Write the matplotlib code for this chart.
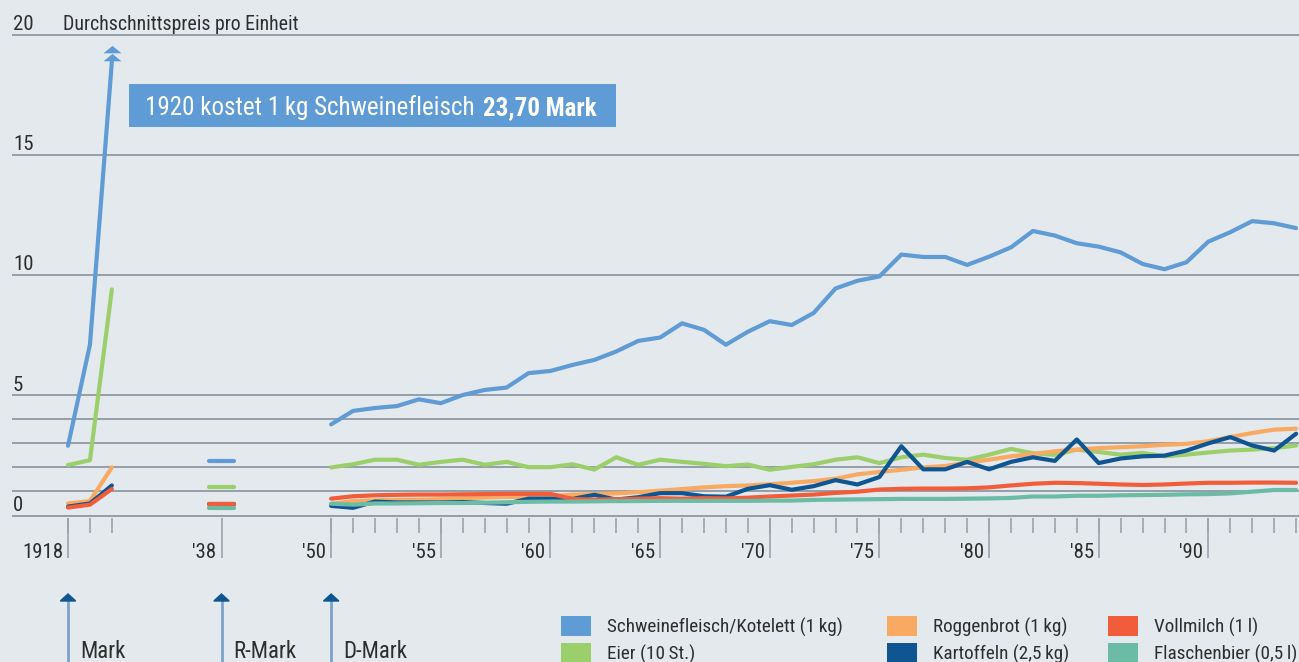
import numpy as np
import matplotlib.pyplot as plt
from matplotlib.patches import Rectangle

plt.rcParams['font.family'] = ['Roboto Condensed', 'Liberation Sans Narrow',
                               'DejaVu Sans Condensed', 'DejaVu Sans']

# --- data -------------------------------------------------------------
years_early = [1918, 1919, 1920]
year_38 = 1938
years_main = list(range(1950, 1995))

pork_early = [2.9, 7.1, 23.70]
eggs_early = [2.1, 2.3, 9.4]
bread_early = [0.5, 0.6, 2.0]
potatoes_early = [0.37, 0.5, 1.25]
milk_early = [0.33, 0.45, 1.1]
beer_early = [np.nan, np.nan, np.nan]

pork_38 = 2.25
eggs_38 = 1.2
bread_38 = 0.45
potatoes_38 = 0.46
milk_38 = 0.46
beer_38 = 0.3

pork_main = [3.79, 4.35, 4.47, 4.55, 4.83, 4.67, 5.01, 5.22, 5.32, 5.92,
             6.01, 6.26, 6.47, 6.82, 7.26, 7.40, 7.99, 7.72, 7.10, 7.64,
             8.08, 7.92, 8.42, 9.44, 9.76, 9.94, 10.85, 10.75, 10.75, 10.42,
             10.76, 11.15, 11.83, 11.64, 11.32, 11.18, 10.94, 10.46, 10.24, 10.53,
             11.39, 11.78, 12.24, 12.15, 11.95]
eggs_main = [2.00, 2.13, 2.32, 2.32, 2.11, 2.23, 2.32, 2.11, 2.23, 2.01,
             2.01, 2.13, 1.91, 2.42, 2.11, 2.32, 2.23, 2.15, 2.05, 2.12,
             1.90, 2.02, 2.13, 2.32, 2.42, 2.18, 2.42, 2.53, 2.39, 2.32,
             2.53, 2.77, 2.59, 2.52, 2.74, 2.64, 2.53, 2.60, 2.46, 2.53,
             2.62, 2.70, 2.74, 2.80, 2.91]
bread_main = [0.48, 0.60, 0.63, 0.65, 0.66, 0.68, 0.72, 0.75, 0.77, 0.78,
              0.80, 0.87, 0.89, 0.92, 0.97, 1.03, 1.10, 1.17, 1.22, 1.25,
              1.30, 1.36, 1.43, 1.53, 1.71, 1.81, 1.90, 2.00, 2.06, 2.20,
              2.32, 2.46, 2.56, 2.67, 2.74, 2.80, 2.84, 2.88, 2.94, 2.98,
              3.09, 3.26, 3.43, 3.57, 3.61]
potatoes_main = [0.40, 0.32, 0.58, 0.54, 0.54, 0.54, 0.56, 0.52, 0.49, 0.70,
                 0.70, 0.69, 0.86, 0.66, 0.76, 0.93, 0.93, 0.80, 0.78, 1.11,
                 1.26, 1.07, 1.22, 1.47, 1.29, 1.60, 2.88, 1.92, 1.92, 2.23,
                 1.92, 2.23, 2.42, 2.27, 3.16, 2.18, 2.37, 2.46, 2.49, 2.70,
                 3.00, 3.26, 2.91, 2.70, 3.40]
milk_main = [0.70, 0.80, 0.84, 0.86, 0.87, 0.87, 0.88, 0.89, 0.90, 0.90,
             0.90, 0.69, 0.66, 0.68, 0.70, 0.72, 0.70, 0.72, 0.71, 0.74,
             0.79, 0.83, 0.87, 0.94, 0.99, 1.08, 1.11, 1.12, 1.12, 1.13,
             1.17, 1.25, 1.32, 1.36, 1.35, 1.32, 1.29, 1.27, 1.29, 1.33,
             1.36, 1.36, 1.37, 1.37, 1.36]
beer_main = [0.49, 0.45, 0.50, 0.50, 0.51, 0.52, 0.52, 0.53, 0.55, 0.57,
             0.58, 0.58, 0.59, 0.60, 0.60, 0.61, 0.61, 0.61, 0.61, 0.61,
             0.62, 0.62, 0.65, 0.66, 0.67, 0.68, 0.69, 0.69, 0.69, 0.70,
             0.71, 0.73, 0.79, 0.79, 0.82, 0.82, 0.84, 0.85, 0.86, 0.88,
             0.89, 0.92, 0.99, 1.06, 1.06]

labels = ['Schweinefleisch/Kotelett (1\u2009kg)', 'Eier (10\u2009St.)',
          'Roggenbrot (1\u2009kg)', 'Kartoffeln (2,5\u2009kg)',
          'Vollmilch (1\u2009l)', 'Flaschenbier (0,5\u2009l)']
colors = ['#5f9bd5', '#9bcf6b', '#f9aa62', '#0e5592', '#f15d3b', '#6cbba4']

grid_values = [0, 1, 2, 3, 4, 5, 10, 15, 20]
ytick_labels = {0: '0', 5: '5', 10: '10', 15: '15', 20: '20'}
major_years = [1918, 1938, 1950, 1955, 1960, 1965, 1970, 1975, 1980, 1985, 1990]
currencies = [(1918, 'Mark'), (1938, 'R-Mark'), (1950, 'D-Mark')]
pork_cap = 18.86   # 1920 value runs off the scale

# --- layout helpers (axes fills the figure, 1 data unit = fixed pixels) ---
W, H = 1299, 662
X0, XS = 68.0, 21.93      # pixel of 1918, pixels per year
Y0, YS = 515.5, 24.05     # pixel of value 0, pixels per unit
bg = '#e4e9ed'
txt = '#2e2e2e'


def xpos(year):
    year = np.asarray(year, dtype=float)
    return np.where(year <= 1920, year - 1918, np.where(year < 1950, 7, year - 1938))


def px(X):
    return (X - X0) / XS


def py(Y):
    return (Y0 - Y) / YS


fig = plt.figure(figsize=(W / 100, H / 100), dpi=100, facecolor=bg)
ax = fig.add_axes([0, 0, 1, 1])
ax.set_facecolor(bg)
ax.set_xlim(px(0), px(W))
ax.set_ylim(py(H), py(0))
ax.axis('off')

# grid
ax.hlines(grid_values, 12 / W, 1, transform=ax.get_yaxis_transform(),
          color='#8d99a4', lw=1.3, zorder=1)
for v, s in ytick_labels.items():
    ax.text(13 / W, v + 4.5 / YS, s, transform=ax.get_yaxis_transform(),
            ha='left', va='baseline', fontsize=15, color=txt)
ax.text(px(63), 20 + 4.5 / YS, 'Durchschnittspreis pro Einheit',
        ha='left', va='baseline', fontsize=14.3, color=txt)

# x ticks
all_years = years_early + years_main
ax.vlines(xpos(all_years), py(518), py(533), color='#9aa3ab', lw=1.2)
ax.vlines(xpos(major_years), py(518), py(558), color='#9aa3ab', lw=1.2)
for yr in major_years:
    lab = str(yr) if yr == 1918 else "'" + str(yr)[2:]
    ax.text(xpos(yr) - 5 / XS, py(558), lab, ha='right', va='baseline',
            fontsize=15, color=txt)

# series
early = [np.minimum(pork_early, pork_cap), eggs_early, bread_early,
         potatoes_early, milk_early, beer_early]
mid = [pork_38, eggs_38, bread_38, potatoes_38, milk_38, beer_38]
main = [pork_main, eggs_main, bread_main, potatoes_main, milk_main, beer_main]
x38 = float(xpos(year_38))
for i in range(6):
    kw = dict(color=colors[i], lw=3, solid_capstyle='round',
              solid_joinstyle='round', zorder=3 + i)
    ax.plot(xpos(years_early), early[i], **kw)
    ax.plot([x38 - 0.55, x38 + 0.55], [mid[i], mid[i]], **kw)
    ax.plot(xpos(years_main), main[i], **kw)

# off-scale marker (double arrowhead) for 1920 pork
xa = float(xpos(1920))
chevron = [(-1, -0.2), (1, -0.2), (0, 0.62)]
ax.plot([xa, xa], [py(59), py(51)], ls='none', marker=chevron,
        ms=13, color=colors[0], mew=0, zorder=10)

# annotation box
ax.add_patch(Rectangle((px(129), py(127)), (616 - 129) / XS, (127 - 84) / YS,
                       facecolor='#5f9bd5', edgecolor='none', zorder=5))
t1 = ax.text(px(145), py(115), '1920 kostet 1\u2009kg Schweinefleisch', color='white',
             fontsize=18, ha='left', va='baseline', zorder=6)
fig.canvas.draw()
bb = t1.get_window_extent()
x2 = ax.transData.inverted().transform((bb.x1 + 8, 0))[0]
ax.text(x2, py(115), '23,70 Mark', color='white', fontsize=18,
        fontweight='bold', ha='left', va='baseline', zorder=6)

# currency arrows
for yr, name in currencies:
    xc = float(xpos(yr))
    ax.plot([xc, xc], [py(600), py(H)], color='#7ba3c8', lw=2, zorder=2)
    ax.fill([xc - 0.35, xc + 0.35, xc], [py(601), py(601), py(594)],
            color='#0e5592', zorder=3)
    ax.text(xc + 12 / XS, py(658), name, ha='left', va='baseline',
            fontsize=16.5, color=txt)

# legend
col_x = [561, 887, 1108]
row_y = [616, 643]
order = [0, 2, 4, 1, 3, 5]
for k, i in enumerate(order):
    c, r = k % 3, k // 3
    x, y = col_x[c], row_y[r]
    ax.add_patch(Rectangle((px(x), py(y + 20)), 30 / XS, 20 / YS,
                           facecolor=colors[i], edgecolor='none'))
    ax.text(px(x + 46), py(y + 17), labels[i], ha='left', va='baseline',
            fontsize=13.8, color=txt)

fig.savefig('out.png', dpi=100, facecolor=bg)
